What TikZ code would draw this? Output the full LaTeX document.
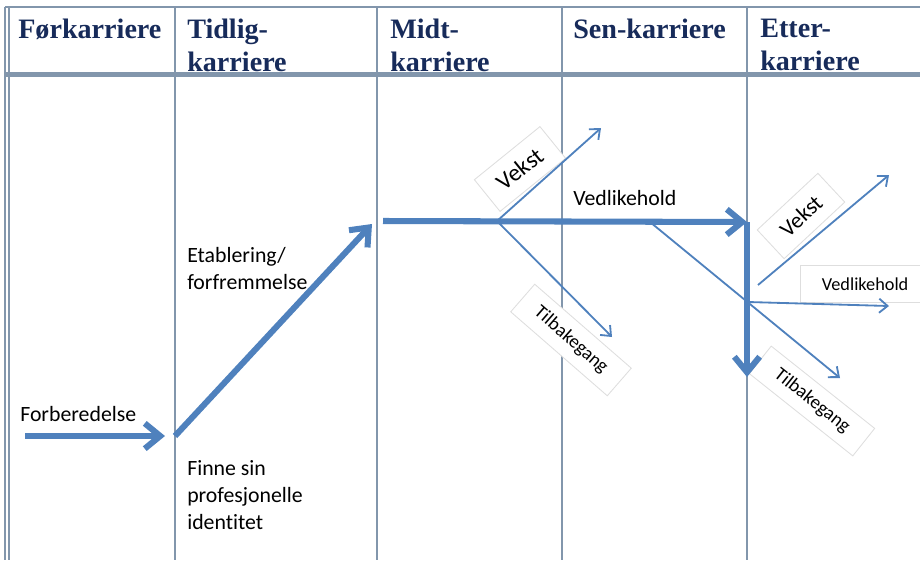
\documentclass[tikz,border=0pt]{standalone}
\usepackage{fontspec}
\setmainfont{Carlito}[Ligatures=NoCommon]
\newfontfamily\headfont{Liberation Serif}
\usetikzlibrary{arrows.meta,positioning}
\definecolor{arrowblue}{RGB}{79,129,189}
\definecolor{gridgray}{RGB}{130,150,172}
\definecolor{headnavy}{RGB}{23,43,90}
\definecolor{tagborder}{RGB}{222,222,222}
\tikzstyle{tableline} = [draw=gridgray, line width=1.6pt]
\tikzstyle{thickline} = [draw=arrowblue, line width=4.3pt, -{Straight Barb[length=11pt,width=18pt]}]
\tikzstyle{thinline} = [draw=arrowblue, line width=1.3pt, -{Straight Barb[length=6pt,width=10pt]}]
\tikzstyle{phase} = [anchor=north west, align=left, inner sep=0pt, text=headnavy, font=\headfont\bfseries\fontsize{20}{23}\selectfont]
\tikzstyle{note} = [anchor=north west, align=left, inner sep=0pt, font=\fontsize{15.5}{19.2}\selectfont]
\tikzstyle{tag} = [draw=tagborder, fill=white, line width=0.6pt, inner sep=0pt]

\begin{document}
\begin{tikzpicture}[x=0.025cm, y=-0.025cm]
      \useasboundingbox (0,0) rectangle (920,560);
      % table
      \path [tableline] (5,7) -- (5,560);
      \path [tableline] (9,7) -- (9,560);
      \path [tableline] (5,7) -- (920,7);
      \path [tableline] (5,73.5) -- (920,73.5);
      \path [tableline] (5,76) -- (920,76);
      \foreach \x in {175,377,562,747}
        \path [tableline] (\x,7) -- (\x,560);
      % phases
      \node [phase] (pre) at (18,19) {Førkarriere};
      \node [phase] (early) at (187,19) {Tidlig-\\karriere};
      \node [phase] (mid) at (390,19) {Midt-\\karriere};
      \node [phase] (late) at (573,19) {Sen-karriere};
      \node [phase] (post) at (760,19) {Etter-\\karriere};
      % texts
      \node [note] (prep) at (20,406) {Forberedelse};
      \node [note] (establish) at (187,247) {Etablering/\\forfremmelse};
      \node [note] (identity) at (187,460) {Finne sin\\profesjonelle\\identitet};
      \node [note] (keep) at (573,190) {Vedlikehold};
      % tags
      \node [tag, rotate=39, minimum width=60pt, minimum height=29pt, font=\fontsize{17}{20}\selectfont] (grow-mid) at (520,169) {Vekst};
      \node [tag, rotate=-41, minimum width=91pt, minimum height=26pt, font=\fontsize{13.5}{16}\selectfont] (back-mid) at (571,340) {Tilbakegang};
      \node [tag, rotate=43, minimum width=59pt, minimum height=28pt, font=\fontsize{16}{19}\selectfont] (grow-post) at (801,216) {Vekst};
      \node [tag, rotate=-38.5, minimum width=94pt, minimum height=25pt, font=\fontsize{13.5}{16}\selectfont] (back-post) at (812,401) {Tilbakegang};
      \node [tag, anchor=west, minimum width=92pt, minimum height=26pt, font=\fontsize{13}{16}\selectfont] (keep-post) at (800,284) {Vedlikehold};
      % path points
      \coordinate (p0) at (25,436);
      \coordinate (p1) at (165,436);
      \coordinate (e0) at (175,436);
      \coordinate (e1) at (372,224);
      \coordinate (m0) at (383,221);
      \coordinate (m1) at (747,222);
      \coordinate (l1) at (747,377);
      \coordinate (fork) at (497,221);
      \coordinate (up-mid) at (601,128);
      \coordinate (down-mid) at (612,337);
      \coordinate (slope) at (650,222);
      \coordinate (down-post) at (840,378);
      \coordinate (flat0) at (748,302);
      \coordinate (flat1) at (889,306);
      \coordinate (up0) at (758,285);
      \coordinate (up-post) at (889,175);
      % arrows
      \path [thinline] (fork) -- (up-mid);
      \path [thinline] (fork) -- (down-mid);
      \path [thinline] (slope) -- (down-post);
      \path [thinline] (flat0) -- (flat1);
      \path [thinline] (up0) -- (up-post);
      \path [thickline] (p0) -- (p1);
      \path [thickline] (e0) -- (e1);
      \path [thickline] (m0) -- (m1);
      \path [thickline] (m1) -- (l1);
\end{tikzpicture}
\end{document}
